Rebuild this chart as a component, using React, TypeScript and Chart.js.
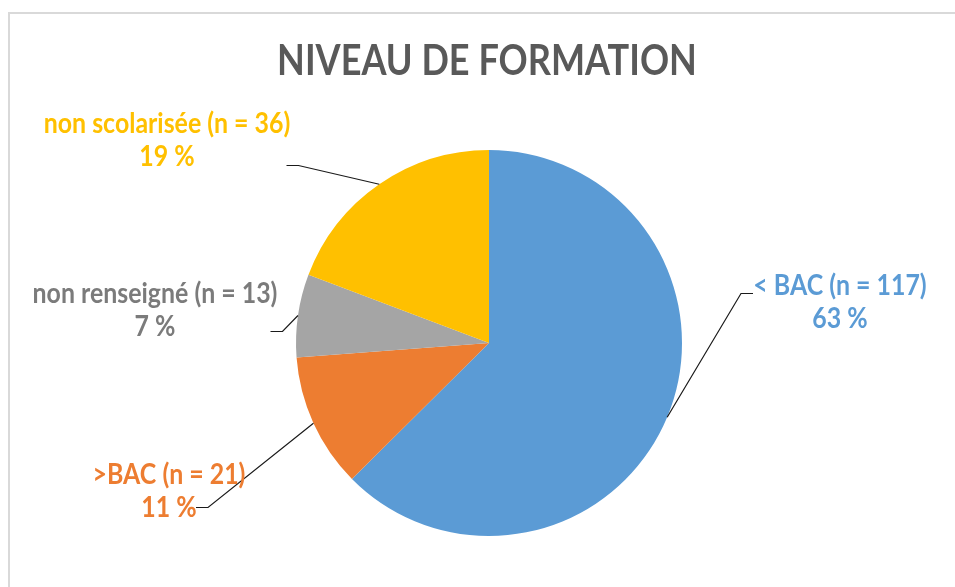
import React, { useEffect, useRef } from "react";
import { Chart, registerables } from "chart.js";

Chart.register(...registerables);

const TITLE = "NIVEAU DE FORMATION";
const categories = ["< BAC", ">BAC", "non renseigné", "non scolarisée"];
const counts = [117, 21, 13, 36];
const sliceColors = ["#5B9BD5", "#ED7D31", "#A5A5A5", "#FFC000"];
const labelColors = ["#5B9BD5", "#ED7D31", "#7B7B7B", "#FFC000"];

// label layout (pixels, relative to pie centre) and leader attach offsets (relative to label centre)
const labelOffsets = [
  [351, -32],
  [-320, 157],
  [-334, -24],
  [-322, -194],
];
const attachOffsets = [
  [-87, -17.5],
  [27, 7.5],
  [115.5, 12.5],
  [119.5, 16.5],
];

const FONT = "Lato, 'Open Sans', sans-serif";
const V_STRETCH = 1.14;

function drawText(ctx: CanvasRenderingContext2D, text: string, x: number, y: number) {
  ctx.save();
  ctx.translate(x, y);
  ctx.scale(1, V_STRETCH);
  ctx.fillText(text, 0, 0);
  ctx.restore();
}

const decorPlugin = {
  id: "decor",
  beforeDraw(chart: any) {
    const ctx = chart.ctx;
    ctx.save();
    ctx.strokeStyle = "#D9D9D9";
    ctx.lineWidth = 2;
    ctx.beginPath();
    ctx.moveTo(9, 587);
    ctx.lineTo(9, 13);
    ctx.lineTo(955, 13);
    ctx.stroke();
    ctx.restore();
  },
  afterDraw(chart: any) {
    const ctx = chart.ctx;
    ctx.save();
    // title
    ctx.font = `bold 100px ${FONT}`;
    const tw = ctx.measureText(TITLE).width;
    const tSize = (100 * 420) / tw;
    ctx.font = `bold ${tSize}px ${FONT}`;
    ctx.fillStyle = "#595959";
    ctx.textAlign = "center";
    ctx.textBaseline = "alphabetic";
    drawText(ctx, TITLE, 487, 75);

    // labels
    const meta = chart.getDatasetMeta(0);
    const data = chart.data.datasets[0].data as number[];
    const total = data.reduce((a, b) => a + b, 0);
    ctx.font = `bold 100px ${FONT}`;
    const refW = ctx.measureText("non renseigné (n = 13)").width;
    const lSize = (100 * 245) / refW;
    ctx.font = `bold ${lSize}px ${FONT}`;
    meta.data.forEach((arc: any, i: number) => {
      const p = arc.getProps(["x", "y", "startAngle", "endAngle", "outerRadius"], true);
      const mid = (p.startAngle + p.endAngle) / 2;
      const ax = p.x + Math.cos(mid) * p.outerRadius;
      const ay = p.y + Math.sin(mid) * p.outerRadius;
      const lx = p.x + labelOffsets[i][0];
      const ly = p.y + labelOffsets[i][1];
      const tx = lx + attachOffsets[i][0];
      const ty = ly + attachOffsets[i][1];
      const ex = tx + (attachOffsets[i][0] < 0 ? -12 : 12);
      ctx.strokeStyle = "#1a1a1a";
      ctx.lineWidth = 1.2;
      ctx.beginPath();
      ctx.moveTo(tx, ty);
      ctx.lineTo(ex, ty);
      ctx.lineTo(ax, ay);
      ctx.stroke();

      ctx.fillStyle = labelColors[i];
      ctx.textAlign = "center";
      drawText(ctx, `${categories[i]} (n = ${data[i]})`, lx, ly - 16.5);
      drawText(ctx, `${Math.round((data[i] / total) * 100)} %`, lx, ly + 16.5);
    });
    ctx.restore();
  },
};

export default function App() {
  const ref = useRef<HTMLCanvasElement>(null);
  useEffect(() => {
    document.body.style.margin = "0";
    document.body.style.overflow = "hidden";
    const chart = new Chart(ref.current!, {
      type: "pie",
      data: {
        labels: categories,
        datasets: [
          {
            data: counts,
            backgroundColor: sliceColors,
            borderWidth: 0,
          },
        ],
      },
      options: {
        responsive: false,
        animation: false,
        layout: { padding: { left: 296, right: 273, top: 150, bottom: 51 } },
        plugins: {
          legend: { display: false },
          tooltip: { enabled: false },
          title: { display: false },
        },
      },
      plugins: [decorPlugin],
    });
    return () => chart.destroy();
  }, []);
  return (
    <div style={{ position: "fixed", left: 0, top: 0, width: 955, height: 587, background: "#fff" }}>
      <canvas ref={ref} width={955} height={587} />
    </div>
  );
}
